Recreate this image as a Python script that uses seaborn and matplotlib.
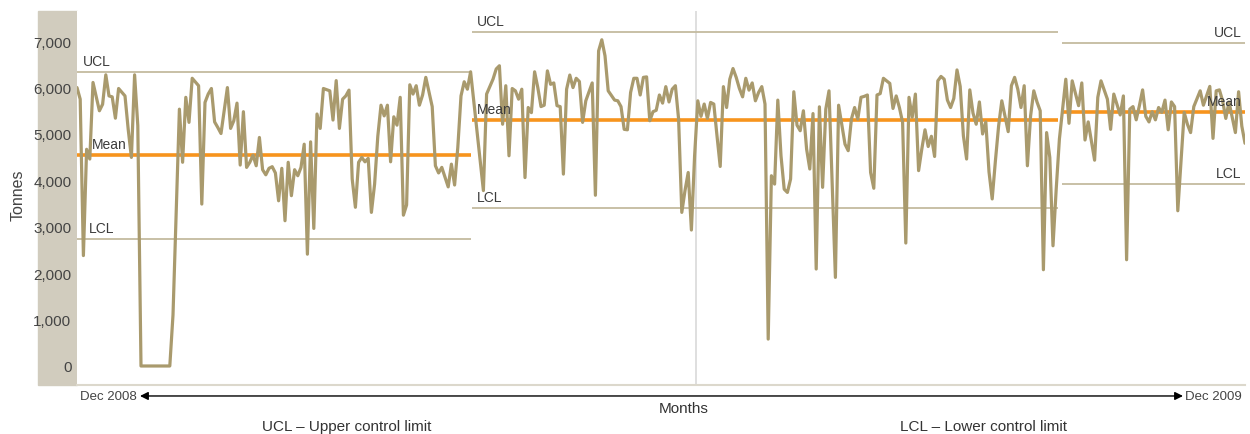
import matplotlib
matplotlib.use("Agg")
import matplotlib.pyplot as plt
import matplotlib.patches as mpatches
import pandas as pd
import seaborn as sns

# daily output, day 0 = start of Dec 2008
days = [0, 1, 2, 3, 4, 5, 7, 8, 9, 10, 11, 12, 13, 15, 16, 17, 18, 19, 20, 29,
        30, 32, 33, 34, 35, 36, 38, 39, 40, 41, 42, 43, 44, 45, 47, 48, 49, 50, 51, 52,
        53, 54, 55, 56, 57, 58, 59, 60, 61, 62, 63, 64, 65, 66, 67, 68, 69, 70, 71, 72,
        73, 74, 75, 76, 77, 79, 80, 81, 82, 83, 84, 85, 86, 87, 88, 89, 90, 91, 92, 93,
        94, 95, 96, 97, 98, 99, 100, 101, 102, 103, 104, 105, 106, 107, 108, 109, 111, 112, 113, 114,
        116, 117, 118, 119, 120, 121, 122, 123, 125, 127, 128, 130, 131, 132, 133, 134, 135, 136, 137, 138,
        139, 140, 141, 142, 143, 144, 145, 146, 147, 148, 149, 150, 151, 152, 153, 154, 155, 156, 157, 158,
        159, 161, 162, 163, 164, 165, 166, 168, 169, 170, 171, 172, 173, 174, 175, 176, 177, 178, 179, 180,
        181, 182, 183, 184, 185, 186, 187, 188, 189, 190, 191, 192, 193, 194, 195, 196, 197, 198, 199, 200,
        201, 202, 203, 204, 205, 206, 207, 208, 209, 210, 211, 212, 213, 214, 215, 216, 217, 218, 219, 220,
        221, 222, 223, 224, 225, 226, 227, 228, 229, 230, 231, 232, 233, 234, 235, 237, 238, 240, 241, 242,
        243, 244, 245, 246, 247, 248, 249, 250, 251, 252, 254, 255, 256, 257, 258, 259, 260, 261, 262, 263,
        264, 265, 266, 267, 268, 269, 270, 271, 272, 273, 274, 275, 276, 277, 278, 279, 280, 281, 282, 283,
        284, 285, 286, 287, 288, 289, 291, 292, 293, 294, 295, 296, 297, 298, 299, 300, 301, 302, 303, 304,
        305, 306, 307, 309, 310, 311, 313, 314, 315, 316, 318, 319, 320, 322, 323, 324, 326, 327, 328, 329,
        330, 331, 332, 333, 334, 335, 336, 337, 338, 339, 340, 341, 342, 343, 344, 346, 347, 348, 349, 351,
        352, 354, 355, 356, 357, 358, 359, 360, 362, 363, 364, 365]

tonnes = [6000, 5750, 2380, 4670, 4460, 6110, 5500, 5640, 6275, 5820, 5800, 5340, 5980, 5820, 5100, 4495, 6275, 5180, 0, 0,
          1100, 5535, 4390, 5790, 5250, 6200, 6040, 3490, 5680, 5860, 5980, 5260, 5140, 5010, 6000, 5120, 5285, 5665, 4330, 5480,
          4280, 4390, 4545, 4315, 4925, 4230, 4120, 4260, 4295, 4160, 3560, 4260, 3130, 4390, 3670, 4230, 4100, 4280, 4780, 2410,
          4830, 2965, 5430, 5120, 5980, 5930, 5300, 6150, 5120, 5750, 5820, 5945, 4030, 3420, 4390, 4495, 4400, 4475, 3310, 3920,
          4950, 5620, 5390, 5620, 4400, 5370, 5190, 5790, 3250, 3470, 6060, 5860, 6040, 5620, 5840, 6220, 5590, 4315, 4160, 4280,
          3860, 4350, 3900, 4710, 5820, 6125, 5965, 6340, 5050, 3780, 5860, 6180, 6400, 6470, 5210, 6040, 4530, 5980, 5930, 5750,
          5965, 4060, 5570, 5460, 6340, 6000, 5590, 5620, 6360, 6070, 6100, 5610, 5590, 4135, 5965, 6270, 6000, 6200, 6130, 5250,
          5715, 6100, 3680, 6790, 7030, 6685, 5930, 5730, 5715, 5590, 5100, 5090, 5895, 6200, 6200, 5840, 6220, 6230, 5285, 5480,
          5510, 5840, 5665, 6020, 5690, 5965, 6040, 5320, 3310, 3780, 4170, 2930, 4530, 5715, 5380, 5645, 5335, 5680, 5645, 4960,
          4300, 6020, 5570, 6180, 6410, 6220, 5980, 5800, 6200, 5945, 6100, 5715, 5895, 6020, 5645, 580, 4100, 3920, 5730, 4530,
          3810, 3740, 4030, 5910, 5190, 5070, 5500, 4675, 4245, 5440, 2090, 5585, 3850, 5535, 5930, 1910, 5620, 4780, 4640, 5320,
          5570, 5320, 5790, 5810, 5840, 4170, 3830, 5840, 5870, 6200, 6090, 5550, 5820, 5570, 5250, 2650, 5790, 5360, 5860, 4210,
          4675, 5090, 4730, 4950, 4515, 6145, 6240, 6180, 5730, 5570, 5765, 6380, 6025, 4960, 4460, 5950, 5450, 5210, 5690, 5000,
          5260, 4185, 3600, 4420, 5170, 5715, 5050, 6040, 6220, 5965, 5570, 6040, 4315, 5390, 5930, 5690, 5500, 2075, 5030, 4495,
          2590, 3810, 4890, 6180, 5230, 6145, 5610, 6100, 4870, 5260, 4435, 5790, 6145, 5750, 5100, 5860, 5410, 5820, 2290, 5535,
          5590, 5305, 5610, 5950, 5380, 5260, 5480, 5305, 5570, 5465, 5730, 5090, 5690, 5590, 3345, 5465, 5210, 5030, 5590, 5930,
          5620, 6025, 4905, 5930, 5950, 5715, 5335, 5690, 5030, 5910, 5170, 4800]

# control-chart phases
phase_start = [0, 123.4, 307.8]
phase_end = [123, 306.6, 365]
ucl = [6335, 7190, 6960]
mean = [4545, 5300, 5465]
lcl = [2736, 3410, 3915]
divider_day = 193.5

df = pd.DataFrame({"day": days, "tonnes": tonnes})

sns.set_style("white")
plt.rcParams["font.family"] = ["Liberation Sans", "DejaVu Sans"]

line_col = "#a99a6d"
limit_col = "#c4bb9f"
mean_col = "#f7941d"
text_col = "#3c3c3c"

fig = plt.figure(figsize=(12.5, 4.35), dpi=100)
ax = fig.add_axes([0.0616, 0.1126, 0.9344, 0.8598])

# grey panel behind the y tick labels
fig.patches.append(mpatches.Rectangle((0.0304, 0.1126), 0.0312, 0.8598,
                                      transform=fig.transFigure, color="#d1ccbe", zorder=-5))

ax.axvline(divider_day, color="#d9d9d9", lw=1.2, zorder=1)

for i in range(3):
    x0, x1 = phase_start[i], phase_end[i]
    ax.hlines([ucl[i], lcl[i]], x0, x1, color=limit_col, lw=1.3, zorder=2)
    ax.hlines(mean[i], x0, x1, color=mean_col, lw=2.6, zorder=2)

sns.lineplot(data=df, x="day", y="tonnes", color=line_col, lw=2.3, ax=ax, zorder=3)

# limit labels
lab = dict(fontsize=10, color=text_col, va="bottom", zorder=4)
ax.text(1.9, ucl[0] + 90, "UCL", **lab)
ax.text(4.7, mean[0] + 90, "Mean", **lab)
ax.text(3.7, lcl[0] + 90, "LCL", **lab)
ax.text(125, ucl[1] + 90, "UCL", **lab)
ax.text(125, mean[1] + 90, "Mean", **lab)
ax.text(125, lcl[1] + 90, "LCL", **lab)
ax.text(364, ucl[2] + 90, "UCL", ha="right", **lab)
ax.text(364, mean[2] + 90, "Mean", ha="right", **lab)
ax.text(364, lcl[2] + 90, "LCL", ha="right", **lab)

ax.set_xlim(0, 365)
ax.set_ylim(-410, 7650)
ax.set_xticks([])
ax.set_yticks(range(0, 7001, 1000))
ax.set_yticklabels([f"{v:,}" for v in range(0, 7001, 1000)])
ax.tick_params(axis="y", length=0, pad=4, labelsize=11, labelcolor="#444444")
ax.set_xlabel("")
ax.set_ylabel("")
for s in ["top", "right", "left"]:
    ax.spines[s].set_visible(False)
ax.spines["bottom"].set_color("#dcd8cc")
ax.spines["bottom"].set_linewidth(1.5)

fig.text(0.0144, 0.55, "Tonnes", rotation=90, ha="center", va="center", fontsize=11.5, color="#444444")

# bottom annotation
fig.text(0.064, 0.0874, "Dec 2008", ha="left", va="center", fontsize=9.5, color="#444444")
fig.text(0.9936, 0.0874, "Dec 2009", ha="right", va="center", fontsize=9.5, color="#444444")
ax.annotate("", xy=(0.112, 0.0874), xytext=(0.9464, 0.0874), xycoords="figure fraction",
            textcoords="figure fraction",
            arrowprops=dict(arrowstyle="<|-|>", color="black", lw=1, mutation_scale=12,
                            shrinkA=0, shrinkB=0))
fig.text(0.5472, 0.0598, "Months", ha="center", va="center", fontsize=11, color="#333333")
fig.text(0.2776, 0.0184, "UCL \u2013 Upper control limit", ha="center", va="center", fontsize=11, color="#333333")
fig.text(0.7864, 0.0184, "LCL \u2013 Lower control limit", ha="center", va="center", fontsize=11, color="#333333")

fig.savefig("out.png", dpi=100)
